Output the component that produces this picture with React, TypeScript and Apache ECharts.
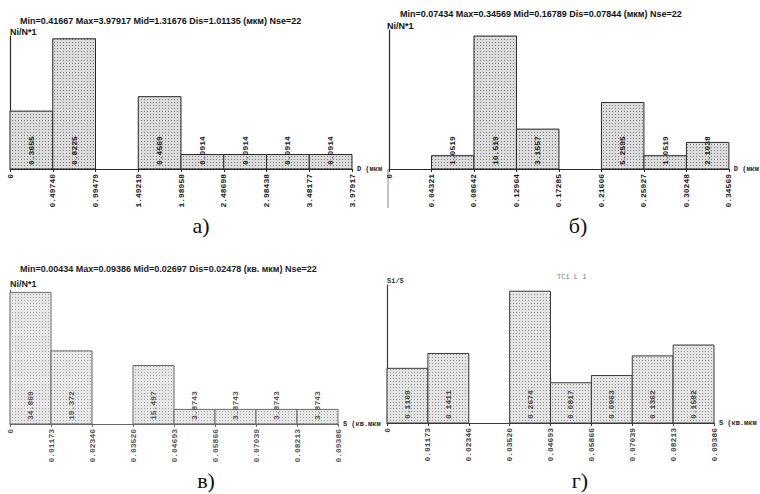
import React, { useEffect, useRef } from "react";
import * as echarts from "echarts";

// ---- data ----
const ticksA = ["0", "0.49740", "0.99479", "1.49219", "1.98958", "2.48698", "2.98438", "3.48177", "3.97917"];
const valuesA = [0.3655, 0.8225, 0, 0.4569, 0.0914, 0.0914, 0.0914, 0.0914];

const ticksB = ["0", "0.04321", "0.08642", "0.12964", "0.17285", "0.21606", "0.25927", "0.30248", "0.34569"];
const valuesB = [0, 1.0519, 10.519, 3.1557, 0, 5.2595, 1.0519, 2.1038];

const ticksV = ["0", "0.01173", "0.02346", "0.03520", "0.04693", "0.05866", "0.07039", "0.08213", "0.09386"];
const valuesV = [34.869, 19.372, 0, 15.497, 3.8743, 3.8743, 3.8743, 3.8743];

const ticksG = ["0", "0.01173", "0.02346", "0.03520", "0.04693", "0.05866", "0.07039", "0.08213", "0.09386"];
const valuesG = [0.1109, 0.1411, 0, 0.2674, 0.0817, 0.0963, 0.1362, 0.1582];

const titleA = "Min=0.41667 Max=3.97917 Mid=1.31676 Dis=1.01135 (мкм) Nse=22";
const titleB = "Min=0.07434 Max=0.34569 Mid=0.16789 Dis=0.07844 (мкм) Nse=22";
const titleV = "Min=0.00434 Max=0.09386 Mid=0.02697 Dis=0.02478 (кв. мкм) Nse=22";
const titleG = "TCi L 1";
const yNameA = "Ni/N*1";
const yNameB = "Ni/N*1";
const yNameV = "Ni/N*1";
const yNameG = "Si/S";
const xNameA = "D (мкм";
const xNameB = "D (мкм";
const xNameV = "S (кв.мкм";
const xNameG = "S (кв.мкм";
const captions = ["а)", "б)", "в)", "г)"];

const MONO = "'Liberation Mono', 'DejaVu Sans Mono', monospace";
const SANS = "'Liberation Sans', Arial, sans-serif";
const SERIF = "'Liberation Serif', 'DejaVu Serif', serif";

type Panel = {
  ticks: string[];
  values: number[];
  xName: string;
  grid: { left: number; top: number; width: number; height: number };
  yMax: number;
  bg: string;
  dot: string;
  stroke: string;
  text: string;
};

const panels: Panel[] = [
  { ticks: ticksA, values: valuesA, xName: xNameA, grid: { left: 10, top: 36, width: 342, height: 133 }, yMax: 0.84, bg: "#dcdcdc", dot: "#7a7a7a", stroke: "#2a2a2a", text: "#1a1a1a" },
  { ticks: ticksB, values: valuesB, xName: xNameB, grid: { left: 389, top: 30, width: 344, height: 139 }, yMax: 11, bg: "#dcdcdc", dot: "#7a7a7a", stroke: "#2a2a2a", text: "#1a1a1a" },
  { ticks: ticksV, values: valuesV, xName: xNameV, grid: { left: 10, top: 290, width: 328, height: 134 }, yMax: 35.5, bg: "#e8e8e8", dot: "#a0a0a0", stroke: "#6a6a6a", text: "#555" },
  { ticks: ticksG, values: valuesG, xName: xNameG, grid: { left: 387, top: 285, width: 327, height: 138 }, yMax: 0.28, bg: "#e4e4e4", dot: "#909090", stroke: "#3a3a3a", text: "#444" },
];

function makePattern(bg: string, dot: string): any {
  const c = document.createElement("canvas");
  c.width = 3;
  c.height = 3;
  const ctx = c.getContext("2d");
  if (!ctx) return bg;
  ctx.fillStyle = bg;
  ctx.fillRect(0, 0, 3, 3);
  ctx.fillStyle = dot;
  ctx.fillRect(0, 0, 1, 1);
  return { image: c, repeat: "repeat" };
}

export default function App() {
  const ref = useRef<HTMLDivElement>(null);
  useEffect(() => {
    if (!ref.current) return;
    const chart = echarts.init(ref.current, null, { renderer: "svg" });

    const grids = panels.map((p) => ({ ...p.grid, containLabel: false }));
    const xAxes = panels.map((p, i) => ({
      type: "value",
      gridIndex: i,
      min: 0,
      max: p.ticks.length - 1,
      interval: 1,
      name: p.xName,
      nameLocation: "end",
      nameGap: 3,
      nameTextStyle: { fontFamily: MONO, fontSize: 7, color: "#222", fontWeight: "bold" },
      axisLine: { show: true, lineStyle: { color: p.stroke, width: 1.2 } },
      axisTick: { show: true, length: 3, lineStyle: { color: p.stroke } },
      axisLabel: {
        rotate: 90,
        margin: 5,
        fontFamily: MONO,
        fontSize: 8,
        fontWeight: "bold",
        color: p.text,
        showMinLabel: true,
        showMaxLabel: true,
        formatter: (v: number) => p.ticks[Math.round(v)] ?? "",
      },
      splitLine: { show: false },
    }));
    const yAxes = panels.map((p, i) => ({
      type: "value",
      gridIndex: i,
      min: 0,
      max: p.yMax,
      axisLine: { show: true, lineStyle: { color: p.stroke, width: 1.2 } },
      axisTick: { show: false },
      axisLabel: { show: false },
      splitLine: { show: false },
    }));
    const series = panels.map((p, i) => {
      const pat = makePattern(p.bg, p.dot);
      return {
        type: "custom",
        xAxisIndex: i,
        yAxisIndex: i,
        data: p.values.map((v, k) => [k, v]),
        encode: { x: 0, y: 1 },
        renderItem: (params: any, api: any) => {
          const k = api.value(0);
          const v = api.value(1);
          const p0 = api.coord([k, 0]);
          const p1 = api.coord([k + 1, v]);
          const children: any[] = [];
          if (v > 0) {
            children.push({
              type: "rect",
              shape: { x: p0[0], y: p1[1], width: p1[0] - p0[0], height: p0[1] - p1[1] },
              style: { fill: pat, stroke: p.stroke, lineWidth: 1 },
            });
            children.push({
              type: "text",
              x: (p0[0] + p1[0]) / 2,
              y: p0[1] - 4,
              rotation: Math.PI / 2,
              style: {
                text: String(p.values[k]),
                font: `bold 8px ${MONO}`,
                fill: p.text,
                align: "left",
                verticalAlign: "middle",
              },
            });
          }
          return { type: "group", children };
        },
      };
    });

    const txt = (x: number, y: number, text: string, font: string, fill = "#111", align = "left") => ({
      type: "text",
      x,
      y,
      style: { text, font, fill, align, verticalAlign: "middle" },
    });

    const graphic = [
      txt(20, 21, titleA, `bold 9px ${SANS}`),
      txt(10, 32, yNameA, `bold 9px ${SANS}`),
      txt(400, 14, titleB, `bold 9px ${SANS}`),
      txt(387, 26, yNameB, `bold 9px ${SANS}`),
      txt(20, 269, titleV, `bold 9px ${SANS}`, "#222"),
      txt(10, 284, yNameV, `bold 9px ${SANS}`, "#222"),
      txt(387, 281, yNameG, `bold 7px ${MONO}`, "#333"),
      txt(557, 277, titleG, `7px ${MONO}`, "#777"),
      { type: "line", shape: { x1: 388, y1: 169, x2: 388, y2: 208 }, style: { stroke: "#888", lineWidth: 1 } },
      txt(201, 225, captions[0], `22px ${SERIF}`, "#111", "center"),
      txt(578, 225, captions[1], `22px ${SERIF}`, "#111", "center"),
      txt(206, 480, captions[2], `22px ${SERIF}`, "#111", "center"),
      txt(580, 480, captions[3], `22px ${SERIF}`, "#111", "center"),
    ];

    chart.setOption({
      animation: false,
      backgroundColor: "#ffffff",
      grid: grids,
      xAxis: xAxes,
      yAxis: yAxes,
      series,
      graphic,
    } as any);
    return () => chart.dispose();
  }, []);
  return <div ref={ref} style={{ position: "fixed", left: 0, top: 0, width: 760, height: 494 }} />;
}
